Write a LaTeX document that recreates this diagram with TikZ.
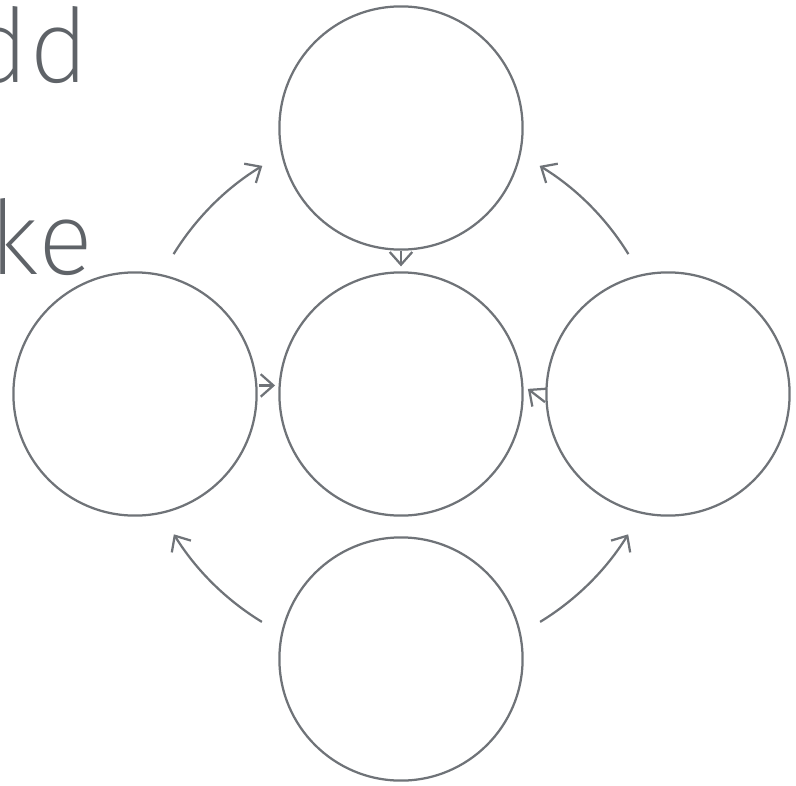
\documentclass[tikz,border=0pt]{standalone}
\usepackage{fontspec}
\newfontfamily\wordfont{Fira Sans ExtraLight}
\usetikzlibrary{arrows.meta}
\definecolor{ringgray}{HTML}{6F7378}
\definecolor{wordgray}{HTML}{5F6368}

\begin{document}
\begin{tikzpicture}[
  ring/.style={circle,draw=ringgray,line width=1.6pt,minimum size=6.08cm,inner sep=0pt},
  link/.style={draw=ringgray,line width=1.6pt,-{Straight Barb[length=9pt,width=16pt]}},
  word/.style={text=wordgray,font=\wordfont\fontsize{73}{80}\selectfont,inner sep=0pt,anchor=base east}
]
\useasboundingbox (-10.025,-9.775) rectangle (9.875,9.85);

% Words
\node[word] (word-dd) at (-7.8, 7.775) {dd};
\node[word] (word-ke) at (-7.7, 3.0) {ke};

% Circles
\node[ring] (c-top)    at (0, 6.65)  {};
\node[ring] (c-left)   at (-6.65, 0) {};
\node[ring] (c-mid)    at (0, 0)     {};
\node[ring] (c-right)  at (6.675, 0) {};
\node[ring] (c-bottom) at (0, -6.625) {};

% Short links
\draw[link,shorten >=3.5pt,shorten <=0.5pt] (c-top) -- (c-mid);
\draw[link,shorten >=2.5pt,shorten <=1pt] (c-left.4) -- (c-mid.176);
\draw[link,shorten >=4pt,shorten <=0.5pt] (c-right.184) -- (c-mid.4);

% Outer arcs
\coordinate (lt-start) at (148.4:6.675);
\coordinate (rt-start) at (31.6:6.675);
\coordinate (bl-start) at (238.6:6.675);
\coordinate (br-start) at (301.4:6.675);
\draw[link] (lt-start) arc[start angle=148.4, end angle=121.3, radius=6.675];
\draw[link] (rt-start) arc[start angle=31.6, end angle=58.7, radius=6.675];
\draw[link] (bl-start) arc[start angle=238.6, end angle=211.7, radius=6.675];
\draw[link] (br-start) arc[start angle=301.4, end angle=328.3, radius=6.675];

\end{tikzpicture}
\end{document}
